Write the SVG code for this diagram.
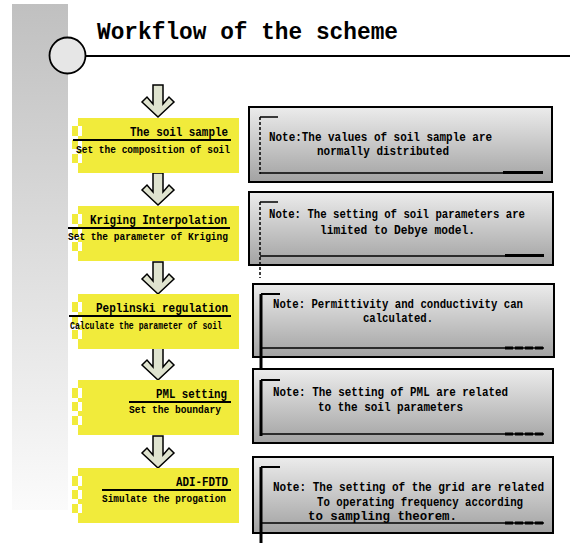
<svg xmlns="http://www.w3.org/2000/svg" xmlns:xlink="http://www.w3.org/1999/xlink" width="570" height="543" viewBox="0 0 570 543">
<style>
.t{font-family:"Liberation Mono","DejaVu Sans Mono",monospace;font-weight:bold;fill:#000}
.yt{font-size:13.5px}
.ys{font-size:11px}
.nt{font-size:12px}
.ul{stroke:#000;stroke-width:2;fill:none}
.nb{fill:url(#ng);stroke:#000;stroke-width:2}
.ln{stroke:#000;fill:none}
.arr{fill:#dfe3cf;stroke:#000;stroke-width:1.5;stroke-linejoin:miter}
</style>
<defs>
<linearGradient id="bar" x1="0" y1="0" x2="0" y2="1">
<stop offset="0" stop-color="#c0c0c0"/>
<stop offset="1" stop-color="#fbfbfb"/>
</linearGradient>
<linearGradient id="ng" x1="0" y1="0" x2="0" y2="1">
<stop offset="0" stop-color="#ececec"/>
<stop offset="1" stop-color="#a2a2a2"/>
</linearGradient>
<g id="ybox" fill="#f1eb3b">
<rect x="82" y="0" width="157" height="55"/>
<rect x="78" y="0" width="4" height="8"/>
<rect x="72" y="8" width="6" height="10"/>
<rect x="78" y="18" width="4" height="4"/>
<rect x="72" y="22" width="6" height="9"/>
<rect x="78" y="31" width="4" height="5"/>
<rect x="72" y="36" width="6" height="9"/>
<rect x="78" y="45" width="4" height="10"/>
</g>
<polygon id="dn" points="-5,0 5,0 5,19 11,12 16,17 0,32 -16,17 -11,12 -5,19"/>
</defs>
<rect width="570" height="543" fill="#fff"/>
<g id="header">
<rect x="12" y="4" width="56" height="506" fill="url(#bar)"/>
<line x1="86" y1="56" x2="570" y2="56" stroke="#000" stroke-width="1.8"/>
<circle cx="67.5" cy="55.5" r="18" fill="#e6e6e6" stroke="#000" stroke-width="1.8"/>
<text class="t" x="97" y="39" font-size="23" textLength="301" lengthAdjust="spacingAndGlyphs">Workflow of the scheme</text>
</g>
<g id="connectors">
<use xlink:href="#dn" class="arr" x="158" y="85"/>
<use xlink:href="#dn" class="arr" x="158" y="173"/>
<use xlink:href="#dn" class="arr" x="158" y="262"/>
<use xlink:href="#dn" class="arr" x="158" y="348"/>
<use xlink:href="#dn" class="arr" x="158" y="436"/>
</g>
<g id="step1">
<use xlink:href="#ybox" y="118"/>
<line class="ul" x1="73" y1="140" x2="231" y2="140"/>
<text class="t yt" x="130" y="136" textLength="98" lengthAdjust="spacingAndGlyphs">The soil sample</text>
<text class="t ys" x="76" y="153" textLength="154" lengthAdjust="spacingAndGlyphs">Set the composition of soil</text>
</g>
<g id="step2">
<use xlink:href="#ybox" y="206"/>
<line class="ul" x1="68" y1="228" x2="230" y2="228"/>
<text class="t yt" x="90" y="224" textLength="137" lengthAdjust="spacingAndGlyphs">Kriging Interpolation</text>
<text class="t ys" x="68" y="240" textLength="160" lengthAdjust="spacingAndGlyphs">Set the parameter of Kriging</text>
</g>
<g id="step3">
<use xlink:href="#ybox" y="294"/>
<line class="ul" x1="69" y1="316" x2="231" y2="316"/>
<text class="t yt" x="96" y="312" textLength="132" lengthAdjust="spacingAndGlyphs">Peplinski regulation</text>
<text class="t" x="70" y="329" font-size="10" textLength="152" lengthAdjust="spacingAndGlyphs">Calculate the parameter of soil</text>
</g>
<g id="step4">
<use xlink:href="#ybox" y="380"/>
<line class="ul" x1="129" y1="402" x2="231" y2="402"/>
<text class="t yt" x="156" y="398" textLength="71" lengthAdjust="spacingAndGlyphs">PML setting</text>
<text class="t ys" x="129" y="413" textLength="92" lengthAdjust="spacingAndGlyphs">Set the boundary</text>
</g>
<g id="step5">
<use xlink:href="#ybox" y="468"/>
<line class="ul" x1="102" y1="490" x2="231" y2="490"/>
<text class="t yt" x="176" y="486" textLength="52" lengthAdjust="spacingAndGlyphs">ADI-FDTD</text>
<text class="t ys" x="102" y="502" textLength="124" lengthAdjust="spacingAndGlyphs">Simulate the progation</text>
</g>
<g id="note1">
<rect class="nb" x="249" y="107" width="303" height="75"/>
<line class="ln" x1="260" y1="117" x2="260" y2="174" stroke-width="1.5" stroke-dasharray="3 2"/>
<line class="ln" x1="260" y1="117" x2="278" y2="117" stroke-width="1.5"/>
<line class="ln" x1="260" y1="173" x2="543" y2="173" stroke-width="1.5"/>
<line class="ln" x1="503" y1="172.5" x2="543" y2="172.5" stroke-width="3"/>
<text class="t nt" x="269" y="141" textLength="223" lengthAdjust="spacingAndGlyphs">Note:The values of soil sample are</text>
<text class="t nt" x="317" y="155" textLength="132" lengthAdjust="spacingAndGlyphs">normally distributed</text>
</g>
<g id="note2">
<rect class="nb" x="249" y="192" width="304" height="73"/>
<line class="ln" x1="260" y1="202" x2="260" y2="278" stroke-width="1.5" stroke-dasharray="3 2"/>
<line class="ln" x1="260" y1="202" x2="278" y2="202" stroke-width="1.5"/>
<line class="ln" x1="260" y1="256" x2="544" y2="256" stroke-width="1.5"/>
<line class="ln" x1="505" y1="255.5" x2="544" y2="255.5" stroke-width="3"/>
<text class="t nt" x="269" y="218" textLength="256" lengthAdjust="spacingAndGlyphs">Note: The setting of soil parameters are</text>
<text class="t nt" x="320" y="234" textLength="155" lengthAdjust="spacingAndGlyphs">limited to Debye model.</text>
</g>
<g id="note3">
<rect class="nb" x="253" y="284" width="301" height="73"/>
<line class="ln" x1="261" y1="294" x2="261" y2="372" stroke-width="3"/>
<line class="ln" x1="261" y1="294" x2="280" y2="294" stroke-width="2"/>
<line class="ln" x1="261" y1="348" x2="544" y2="348" stroke-width="1.5"/>
<line class="ln" x1="505" y1="348" x2="544" y2="348" stroke-width="3" stroke-dasharray="8 2"/>
<text class="t nt" x="273" y="308" textLength="250" lengthAdjust="spacingAndGlyphs">Note: Permittivity and conductivity can</text>
<text class="t nt" x="363" y="322" textLength="70" lengthAdjust="spacingAndGlyphs">calculated.</text>
</g>
<g id="note4">
<rect class="nb" x="253" y="369" width="300" height="74"/>
<line class="ln" x1="261" y1="380" x2="261" y2="436" stroke-width="3"/>
<line class="ln" x1="261" y1="380" x2="280" y2="380" stroke-width="2"/>
<line class="ln" x1="261" y1="434" x2="544" y2="434" stroke-width="1.5"/>
<line class="ln" x1="505" y1="434" x2="544" y2="434" stroke-width="3" stroke-dasharray="8 2"/>
<text class="t nt" x="273" y="396" textLength="235" lengthAdjust="spacingAndGlyphs">Note: The setting of PML are related</text>
<text class="t nt" x="318" y="411" textLength="145" lengthAdjust="spacingAndGlyphs">to the soil parameters</text>
</g>
<g id="note5">
<rect class="nb" x="253" y="457" width="300" height="76"/>
<line class="ln" x1="261" y1="467" x2="261" y2="543" stroke-width="3"/>
<line class="ln" x1="261" y1="467" x2="280" y2="467" stroke-width="2"/>
<line class="ln" x1="261" y1="523" x2="544" y2="523" stroke-width="1.5"/>
<line class="ln" x1="505" y1="523" x2="544" y2="523" stroke-width="3" stroke-dasharray="8 2"/>
<text class="t nt" x="273" y="491" font-size="11.6" textLength="271" lengthAdjust="spacingAndGlyphs">Note: The setting of the grid are related</text>
<text class="t nt" x="317" y="506" textLength="206" lengthAdjust="spacingAndGlyphs">To operating frequency according</text>
<text class="t nt" x="308" y="520" textLength="149" lengthAdjust="spacingAndGlyphs">to sampling theorem.</text>
</g>
</svg>
